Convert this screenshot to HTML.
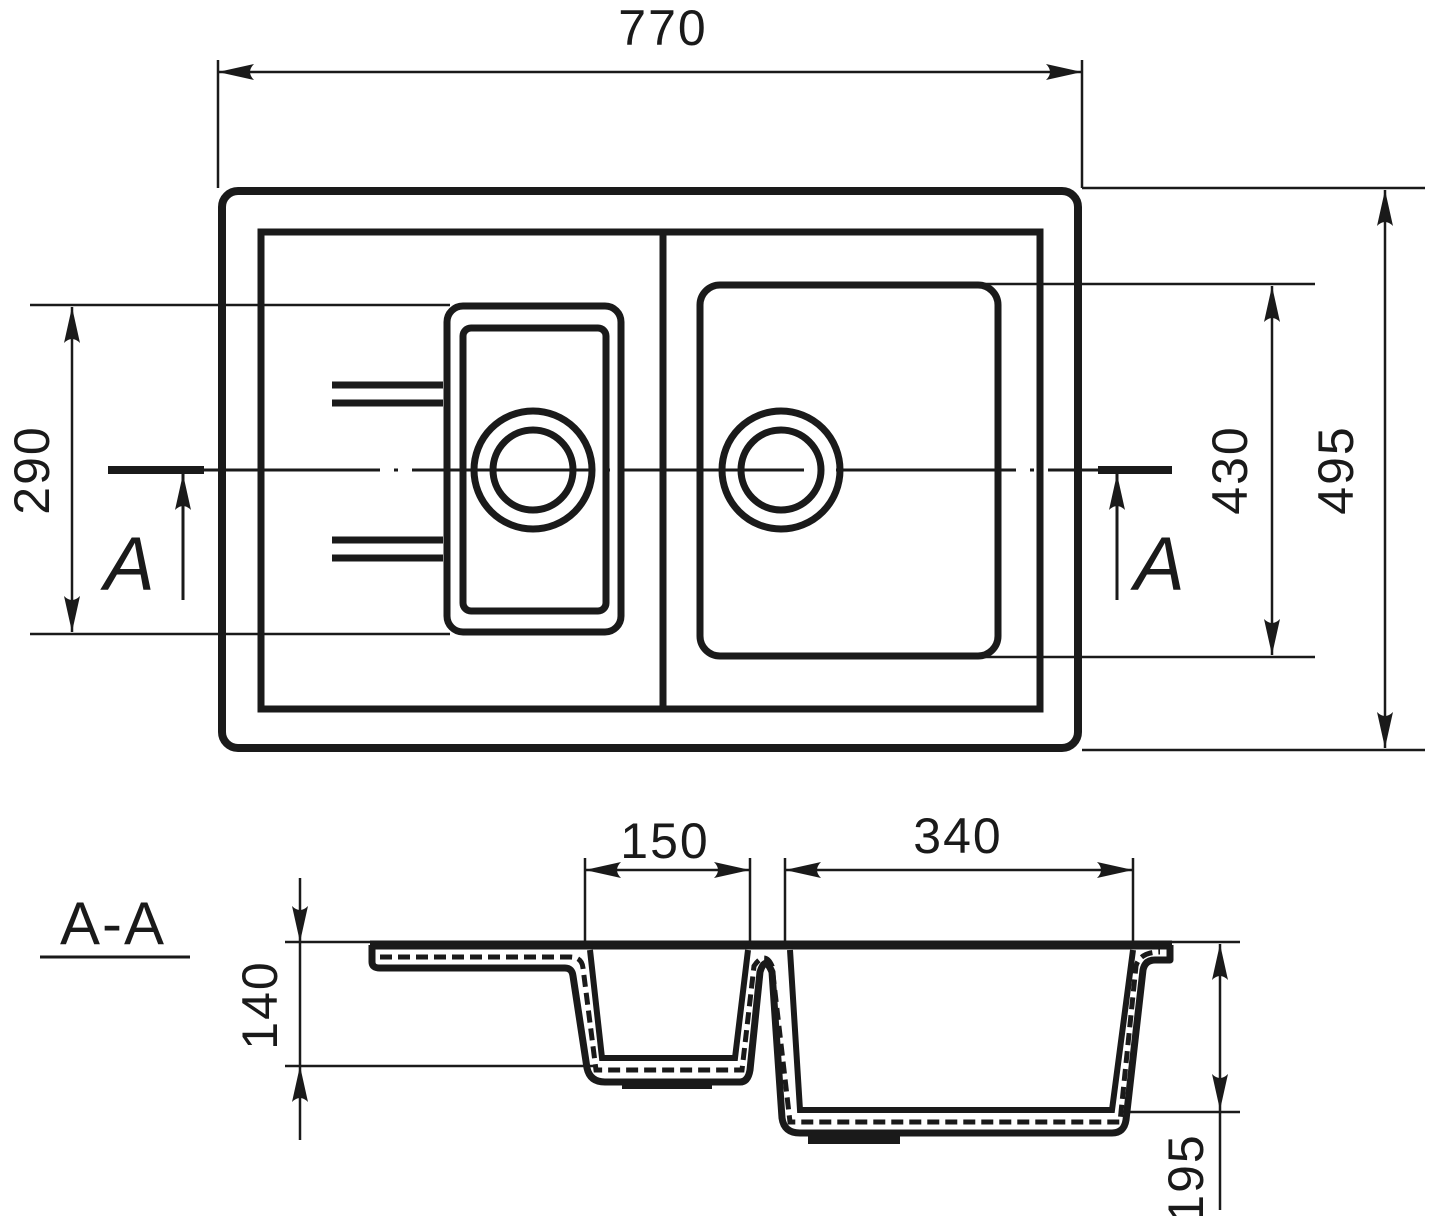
<!DOCTYPE html>
<html><head><style>html,body{margin:0;padding:0;background:#fff}svg{display:block}</style></head>
<body>
<svg width="1432" height="1216" viewBox="0 0 1432 1216" xmlns="http://www.w3.org/2000/svg" font-family="'Liberation Sans',sans-serif" fill="none" stroke="#1a1a1a">
<defs>
<marker id="ar" viewBox="0 0 36 16" refX="36" refY="8" markerWidth="36" markerHeight="16" markerUnits="userSpaceOnUse" orient="auto-start-reverse">
<path d="M0,0 L36,8 L0,16 Q8,8 0,0 Z" fill="#1a1a1a" stroke="none"/>
</marker>
</defs>
<!-- top view -->
<rect x="222" y="191" width="856" height="557" rx="16" stroke-width="8"/>
<rect x="261" y="232" width="779" height="477" stroke-width="7"/>
<line x1="663" y1="232" x2="663" y2="709" stroke-width="7"/>
<rect x="447" y="306" width="174" height="326" rx="16" stroke-width="7"/>
<rect x="463" y="328" width="143" height="283" rx="8" stroke-width="7"/>
<circle cx="533" cy="470" r="59" stroke-width="7"/>
<circle cx="533" cy="470" r="40" stroke-width="7"/>
<rect x="700" y="285" width="298" height="371" rx="20" stroke-width="7"/>
<circle cx="781" cy="470" r="59" stroke-width="7"/>
<circle cx="781" cy="470" r="40" stroke-width="7"/>
<g stroke-width="7">
<line x1="332" y1="385" x2="443" y2="385"/><line x1="332" y1="403" x2="443" y2="403"/>
<line x1="332" y1="540" x2="443" y2="540"/><line x1="332" y1="558" x2="443" y2="558"/>
</g>
<line x1="200" y1="470" x2="1100" y2="470" stroke-width="3" stroke-dasharray="180 14 4 14"/>
<line x1="108" y1="470" x2="204" y2="470" stroke-width="8"/>
<line x1="1098" y1="470" x2="1172" y2="470" stroke-width="8"/>
<line x1="183" y1="600" x2="183" y2="474" stroke-width="3" marker-end="url(#ar)"/>
<line x1="1117" y1="600" x2="1117" y2="474" stroke-width="3" marker-end="url(#ar)"/>
<g fill="#1a1a1a" stroke="none" font-size="76" font-style="italic">
<text x="104" y="590">A</text><text x="1134" y="590">A</text>
</g>
<!-- dims -->
<g stroke-width="2.5">
<line x1="218" y1="60" x2="218" y2="188"/><line x1="1082" y1="60" x2="1082" y2="188"/>
<line x1="218" y1="72" x2="1082" y2="72" marker-start="url(#ar)" marker-end="url(#ar)"/>
<line x1="1082" y1="188" x2="1425" y2="188"/><line x1="1082" y1="750" x2="1425" y2="750"/>
<line x1="1385" y1="190" x2="1385" y2="748" marker-start="url(#ar)" marker-end="url(#ar)"/>
<line x1="985" y1="284" x2="1315" y2="284"/><line x1="985" y1="657" x2="1315" y2="657"/>
<line x1="1272" y1="286" x2="1272" y2="655" marker-start="url(#ar)" marker-end="url(#ar)"/>
<line x1="30" y1="305" x2="450" y2="305"/><line x1="30" y1="634" x2="450" y2="634"/>
<line x1="72" y1="307" x2="72" y2="632" marker-start="url(#ar)" marker-end="url(#ar)"/>
</g>
<g fill="#1a1a1a" stroke="none" font-size="50" text-anchor="middle" letter-spacing="2">
<text x="663" y="45">770</text>
<text transform="translate(1353,470) rotate(-90)">495</text>
<text transform="translate(1247,470) rotate(-90)">430</text>
<text transform="translate(49,470) rotate(-90)">290</text>
<text x="665" y="858">150</text>
<text x="958" y="853">340</text>
<text transform="translate(277,1005) rotate(-90)">140</text>
<text transform="translate(1203,1178) rotate(-90)">195</text>
<text x="113" y="944" font-size="60" letter-spacing="2">A-A</text>
</g>
<line x1="40" y1="957" x2="190" y2="957" stroke-width="3"/>
<!-- section dims -->
<g stroke-width="2.5">
<line x1="285" y1="942" x2="372" y2="942"/><line x1="1172" y1="942" x2="1240" y2="942"/>
<line x1="285" y1="1066" x2="595" y2="1066"/>
<line x1="300" y1="878" x2="300" y2="942" marker-end="url(#ar)"/>
<line x1="300" y1="1140" x2="300" y2="1066" marker-end="url(#ar)"/>
<line x1="300" y1="942" x2="300" y2="1066"/>
<line x1="1130" y1="1112" x2="1240" y2="1112"/>
<line x1="1220" y1="1110" x2="1220" y2="944" marker-start="url(#ar)" marker-end="url(#ar)"/>
<line x1="1220" y1="1110" x2="1220" y2="1210"/>
<line x1="585" y1="858" x2="585" y2="942"/><line x1="750" y1="858" x2="750" y2="942"/>
<line x1="585" y1="870" x2="750" y2="870" marker-start="url(#ar)" marker-end="url(#ar)"/>
<line x1="785" y1="858" x2="785" y2="942"/><line x1="1133" y1="858" x2="1133" y2="942"/>
<line x1="785" y1="870" x2="1133" y2="870" marker-start="url(#ar)" marker-end="url(#ar)"/>
</g>
<!-- section -->
<line x1="370" y1="945" x2="1172" y2="945" stroke-width="9"/>
<path d="M372,945 V962 Q372,968 380,968 H565 Q572,968 573,976 L587,1068 Q590,1082 605,1082 H740 Q748,1082 750,1070 L760,972 Q765,955 772,972 L782,1118 Q784,1133 800,1133 H1112 Q1124,1133 1126,1120 L1143,970 Q1145,960 1155,960 H1170 V945" stroke-width="7" stroke-linejoin="round"/>
<path d="M590,950 L602,1058 H735 L748,950 M790,950 L800,1110 H1112 L1133,950" stroke-width="6"/>
<path d="M380,957 H570 Q582,957 583,968 L596,1070 H742 L754,966 Q765,950 772,966 L790,1122 H1120 L1136,966 Q1140,952 1160,952" stroke-width="5" stroke-dasharray="12 6"/>
<rect x="622" y="1080" width="90" height="9" fill="#1a1a1a" stroke="none"/>
<rect x="808" y="1133" width="92" height="11" fill="#1a1a1a" stroke="none"/>
</svg>
</body></html>
